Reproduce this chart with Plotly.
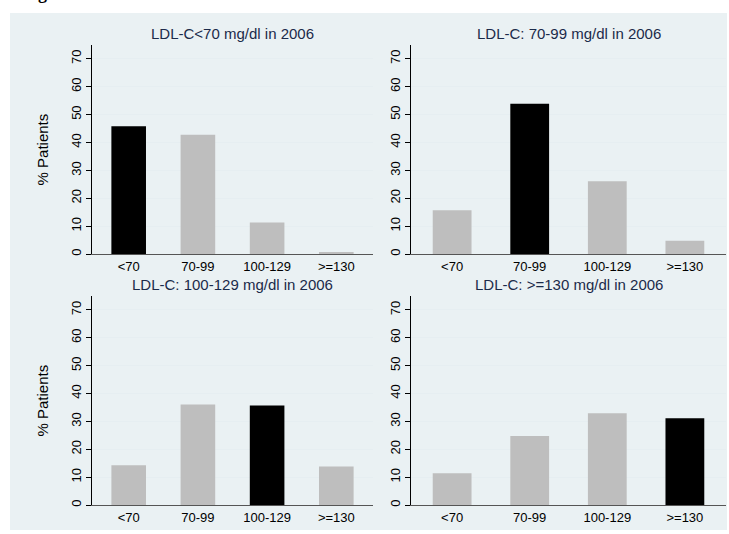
import plotly.graph_objects as go

# LDL-C category in the follow-up year (x axis of every panel)
categories = ["<70", "70-99", "100-129", ">=130"]

# Panel titles: baseline LDL-C group in 2006
panel_titles = [
    "LDL-C<70 mg/dl in 2006",
    "LDL-C: 70-99 mg/dl in 2006",
    "LDL-C: 100-129 mg/dl in 2006",
    "LDL-C: >=130 mg/dl in 2006",
]

# % of patients in each follow-up category, one list per baseline group
pct_lt70 = [45.8, 42.8, 11.3, 0.7]
pct_70_99 = [15.7, 53.9, 26.1, 4.8]
pct_100_129 = [14.3, 36.1, 35.7, 13.8]
pct_ge130 = [11.4, 24.8, 32.9, 31.1]

y_ticks = [0, 10, 20, 30, 40, 50, 60, 70]

W, H = 729, 534
BG = "#EAF1F3"
GRID = "#E6EEF1"
GRAY_BAR = "#BEBEBE"
TITLE_COLOR = "#1B2A4A"
FONT = "Liberation Sans, Arial, sans-serif"

series = [pct_lt70, pct_70_99, pct_100_129, pct_ge130]

# plot-area boxes in pixels: (left, right, top, bottom)
boxes = [
    (92, 373, 45, 255),
    (411, 726, 45, 255),
    (92, 373, 297, 507),
    (411, 726, 297, 507),
]


def px_x(v):
    return v / W


def px_y(v):
    return 1 - v / H


fig = go.Figure()
layout = dict(
    width=W,
    height=H,
    margin=dict(l=0, r=0, t=0, b=0),
    paper_bgcolor="white",
    plot_bgcolor="white",
    showlegend=False,
    font=dict(family=FONT, size=13, color="black"),
    bargap=0.5,
)

annotations = []
shapes = [
    dict(type="rect", xref="paper", yref="paper",
         x0=px_x(10), x1=px_x(727), y0=px_y(532), y1=px_y(13),
         fillcolor=BG, line=dict(width=0), layer="below"),
]

for i, (vals, title, box) in enumerate(zip(series, panel_titles, boxes)):
    n = i + 1
    xa = "x" if n == 1 else f"x{n}"
    ya = "y" if n == 1 else f"y{n}"
    colors = ["black" if j == i else GRAY_BAR for j in range(len(categories))]
    fig.add_trace(go.Bar(
        x=list(range(len(categories))), y=vals,
        marker=dict(color=colors, line=dict(width=0)),
        width=0.5, xaxis=xa, yaxis=ya, hoverinfo="skip",
    ))
    left, right, top, bottom = box
    xkey = "xaxis" if n == 1 else f"xaxis{n}"
    ykey = "yaxis" if n == 1 else f"yaxis{n}"
    layout[xkey] = dict(
        domain=[px_x(left), px_x(right)], anchor=ya,
        range=[-0.53, 3.53], tickvals=list(range(len(categories))),
        ticktext=categories, ticks="", showgrid=False, zeroline=False,
        showline=True, linecolor="#555555", linewidth=1,
        tickfont=dict(size=13, color="black"), fixedrange=True,
    )
    layout[ykey] = dict(
        domain=[px_y(bottom), px_y(top)], anchor=xa,
        range=[0, 75], tickvals=y_ticks, ticks="outside", ticklen=5,
        tickcolor="black", tickwidth=1, tickangle=-90,
        showline=True, linecolor="black", linewidth=1,
        showgrid=True, gridcolor=GRID, gridwidth=1, zeroline=False,
        tickfont=dict(size=13, color="black"), fixedrange=True,
    )
    annotations.append(dict(
        text=title, xref="paper", yref="paper",
        x=px_x((left + right) / 2), y=px_y(top - 11),
        xanchor="center", yanchor="middle", showarrow=False,
        font=dict(size=15, color=TITLE_COLOR, family=FONT),
    ))
    if n in (1, 3):
        annotations.append(dict(
            text="% Patients", xref="paper", yref="paper",
            x=px_x(42), y=px_y((top + bottom) / 2),
            xanchor="center", yanchor="middle", textangle=-90,
            showarrow=False, font=dict(size=15, color="black", family=FONT),
        ))

# figure caption running off the top edge
annotations.append(dict(
    text="<b>Figure 2</b>", xref="paper", yref="paper",
    x=px_x(20), y=1, xanchor="left", yanchor="bottom", yshift=-5,
    showarrow=False,
    font=dict(size=18, color="black", family="Liberation Serif, Times New Roman, serif"),
))

layout["annotations"] = annotations
layout["shapes"] = shapes
fig.update_layout(**layout)
fig.write_html("out.html")
